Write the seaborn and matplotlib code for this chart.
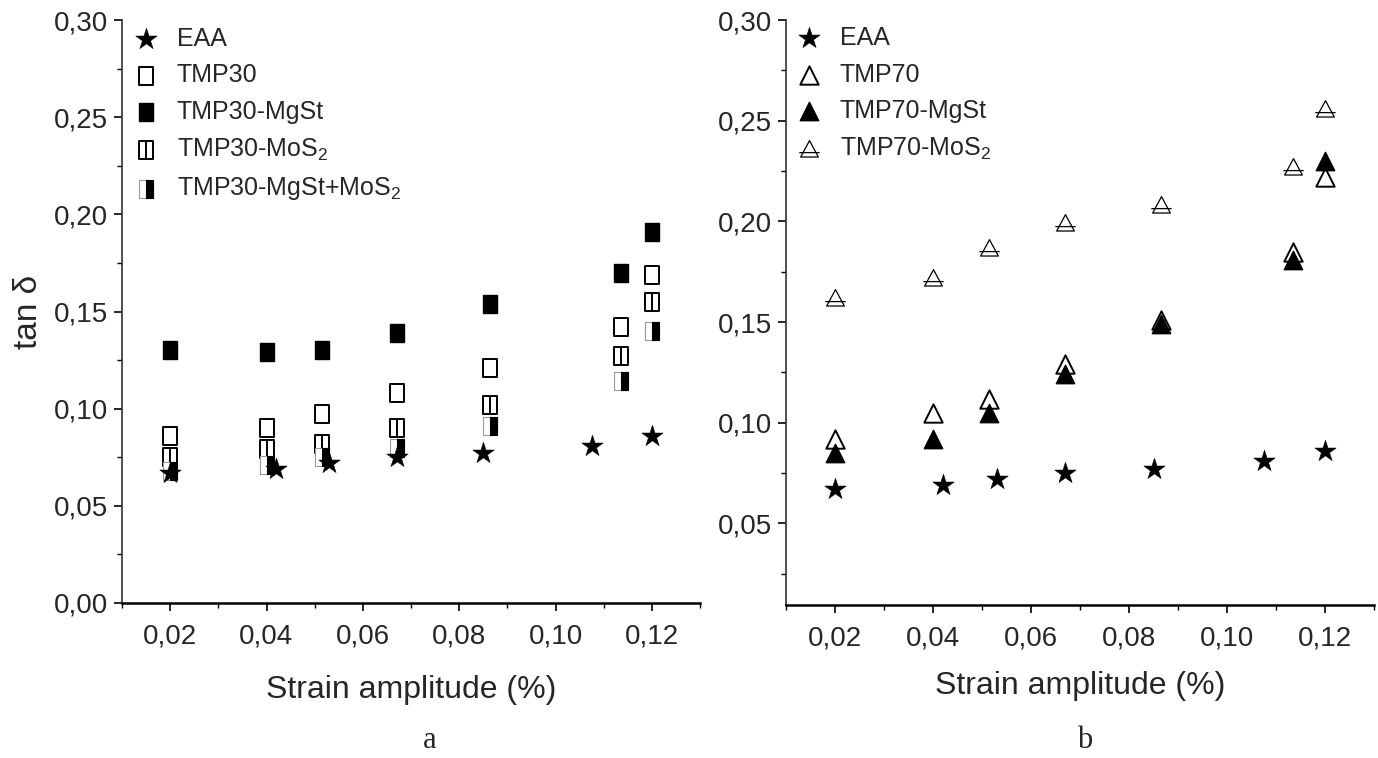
import numpy as np
import pandas as pd
import seaborn as sns
import matplotlib
matplotlib.use("Agg")
import matplotlib.pyplot as plt
from matplotlib.path import Path
from matplotlib.ticker import FuncFormatter
from matplotlib.legend_handler import HandlerTuple

# ---------------- data ----------------
eaa_x = [0.020, 0.042, 0.053, 0.067, 0.085, 0.1075, 0.120]
eaa_y = [0.067, 0.069, 0.072, 0.075, 0.077, 0.081, 0.086]

strain = [0.020, 0.040, 0.0515, 0.067, 0.0865, 0.1135, 0.120]

tmp30 = [0.086, 0.090, 0.097, 0.108, 0.121, 0.142, 0.169]
tmp30_mgst = [0.130, 0.129, 0.130, 0.139, 0.154, 0.170, 0.191]
tmp30_mos2 = [0.075, 0.079, 0.082, 0.090, 0.102, 0.127, 0.155]
tmp30_mgst_mos2 = [0.068, 0.071, 0.075, 0.080, 0.091, 0.114, 0.140]

tmp70 = [0.092, 0.105, 0.112, 0.129, 0.151, 0.185, 0.222]
tmp70_mgst = [0.085, 0.092, 0.105, 0.124, 0.149, 0.181, 0.230]
tmp70_mos2 = [0.162, 0.172, 0.187, 0.199, 0.208, 0.227, 0.256]

labels_a = ["EAA", "TMP30", "TMP30-MgSt", r"TMP30-MoS$_\mathregular{2}$",
            r"TMP30-MgSt+MoS$_\mathregular{2}$"]
labels_b = ["EAA", "TMP70", "TMP70-MgSt", r"TMP70-MoS$_\mathregular{2}$"]

xticks = [0.02, 0.04, 0.06, 0.08, 0.10, 0.12]
xminor = [0.01, 0.03, 0.05, 0.07, 0.09, 0.11, 0.13]
yticks_a = [0.00, 0.05, 0.10, 0.15, 0.20, 0.25, 0.30]
yticks_b = [0.05, 0.10, 0.15, 0.20, 0.25, 0.30]
yminor = [0.025, 0.075, 0.125, 0.175, 0.225, 0.275]

# ---------------- style ----------------
sns.set_theme(style="white")
FONT = ["Liberation Sans Narrow", "Liberation Sans", "DejaVu Sans"]
plt.rcParams["font.family"] = FONT
plt.rcParams["mathtext.fontset"] = "custom"
plt.rcParams["mathtext.rm"] = "Liberation Sans"

# custom markers
rect = Path([(-0.8, -1), (0.8, -1), (0.8, 1), (-0.8, 1), (-0.8, -1)],
            [Path.MOVETO, Path.LINETO, Path.LINETO, Path.LINETO, Path.CLOSEPOLY])
half_rect = Path([(0, -1), (0.8, -1), (0.8, 1), (0, 1), (0, -1)],
                 [Path.MOVETO, Path.LINETO, Path.LINETO, Path.LINETO, Path.CLOSEPOLY])
rect_line = Path([(-0.8, -1), (0.8, -1), (0.8, 1), (-0.8, 1), (-0.8, -1), (0, -1), (0, 1)],
                 [Path.MOVETO, Path.LINETO, Path.LINETO, Path.LINETO, Path.CLOSEPOLY,
                  Path.MOVETO, Path.LINETO])
tri_line = Path([(-1, -0.85), (1, -0.85), (0, 1), (-1, -0.85), (-1.15, -0.35), (1.15, -0.35)],
                [Path.MOVETO, Path.LINETO, Path.LINETO, Path.CLOSEPOLY, Path.MOVETO, Path.LINETO])

W, H = 1378, 758
fig = plt.figure(figsize=(W / 100, H / 100), dpi=100)
ax_a = fig.add_axes([122 / W, (H - 603) / H, 578 / W, 583 / H])
ax_b = fig.add_axes([786 / W, (H - 605) / H, 588 / W, 585 / H])

comma = FuncFormatter(lambda v, p: f"{v:.2f}".replace(".", ","))

def scat(ax, x, y, marker, s, fc, ec="black", lw=1.1, z=3):
    sns.scatterplot(x=x, y=y, marker=marker, s=s, color=fc, edgecolor=ec,
                    linewidth=lw, ax=ax, zorder=z, legend=False)
    return ax.collections[-1]

# ---- panel a ----
h1 = scat(ax_a, eaa_x, eaa_y, "*", 260, "black", lw=0.4, z=6)
h2 = scat(ax_a, strain, tmp30, rect, 160, "white", lw=1.4)
h3 = scat(ax_a, strain, tmp30_mgst, rect, 160, "black", lw=1.0)
h4 = scat(ax_a, strain, tmp30_mos2, rect_line, 160, "white", lw=1.4)
h5a = scat(ax_a, strain, tmp30_mgst_mos2, rect, 160, "white", ec="#999999", lw=0.8, z=4)
h5b = scat(ax_a, strain, tmp30_mgst_mos2, half_rect, 160, "black", lw=0.8, z=5)

# ---- panel b ----
g1 = scat(ax_b, eaa_x, eaa_y, "*", 260, "black", lw=0.4, z=6)
g2 = scat(ax_b, strain, tmp70, "^", 175, "white", lw=1.4)
g3 = scat(ax_b, strain, tmp70_mgst, "^", 175, "black", lw=1.0)
g4 = scat(ax_b, strain, tmp70_mos2, tri_line, 215, "white", lw=0.9)

for ax, yt, ylo in ((ax_a, yticks_a, 0.0), (ax_b, yticks_b, 0.0095)):
    ax.set_xlim(0.01, 0.13)
    ax.set_ylim(ylo, 0.30)
    ax.set_xticks(xticks)
    ax.set_xticks(xminor, minor=True)
    ax.set_yticks(yt)
    ax.set_yticks([v for v in yminor if v > ylo], minor=True)
    ax.xaxis.set_major_formatter(comma)
    ax.yaxis.set_major_formatter(comma)
    for sp in ("top", "right"):
        ax.spines[sp].set_visible(False)
    ax.spines["left"].set_color("#333333")
    ax.spines["left"].set_linewidth(1.2)
    ax.spines["bottom"].set_color("black")
    ax.spines["bottom"].set_linewidth(1.8)
    ax.tick_params(axis="both", which="major", direction="out", length=6, width=1.2,
                   color="black", labelsize=20, bottom=True, left=True)
    ax.tick_params(axis="x", which="major", pad=9)
    ax.tick_params(axis="y", which="major", pad=4)
    ax.tick_params(axis="both", which="minor", direction="out", length=3.5, width=1.0,
                   color="black", bottom=True, left=True)
    ax.set_facecolor("white")
    ax.set_xlabel("Strain amplitude (%)", fontsize=23, labelpad=18)
    ax.set_ylabel("")
    ax.grid(False)

ax_b.xaxis.labelpad = 14
ax_a.set_ylabel("tan δ", fontsize=24)
ax_a.yaxis.set_label_coords((44 - 122) / 578, 0.5)

leg_kw = dict(loc="upper left", bbox_transform=fig.transFigure, frameon=False,
              fontsize=18, handletextpad=0.75, handlelength=1.0, labelspacing=0.5,
              borderaxespad=0, borderpad=0)
leg_a = ax_a.legend([h1, h2, h3, h4, (h5a, h5b)], labels_a,
                    handler_map={tuple: HandlerTuple(ndivide=1)},
                    bbox_to_anchor=(133 / W, 1 - 27 / H), **leg_kw)
leg_b = ax_b.legend([g1, g2, g3, g4], labels_b,
                    bbox_to_anchor=(796 / W, 1 - 26 / H), **leg_kw)

fig.text(430 / W, 1 - 740 / H, "a", ha="center", va="center", fontsize=22,
         family=["Liberation Serif", "DejaVu Serif"])
fig.text(1085 / W, 1 - 740 / H, "b", ha="center", va="center", fontsize=22,
         family=["Liberation Serif", "DejaVu Serif"])

fig.savefig("out.png", dpi=100, facecolor="white")
